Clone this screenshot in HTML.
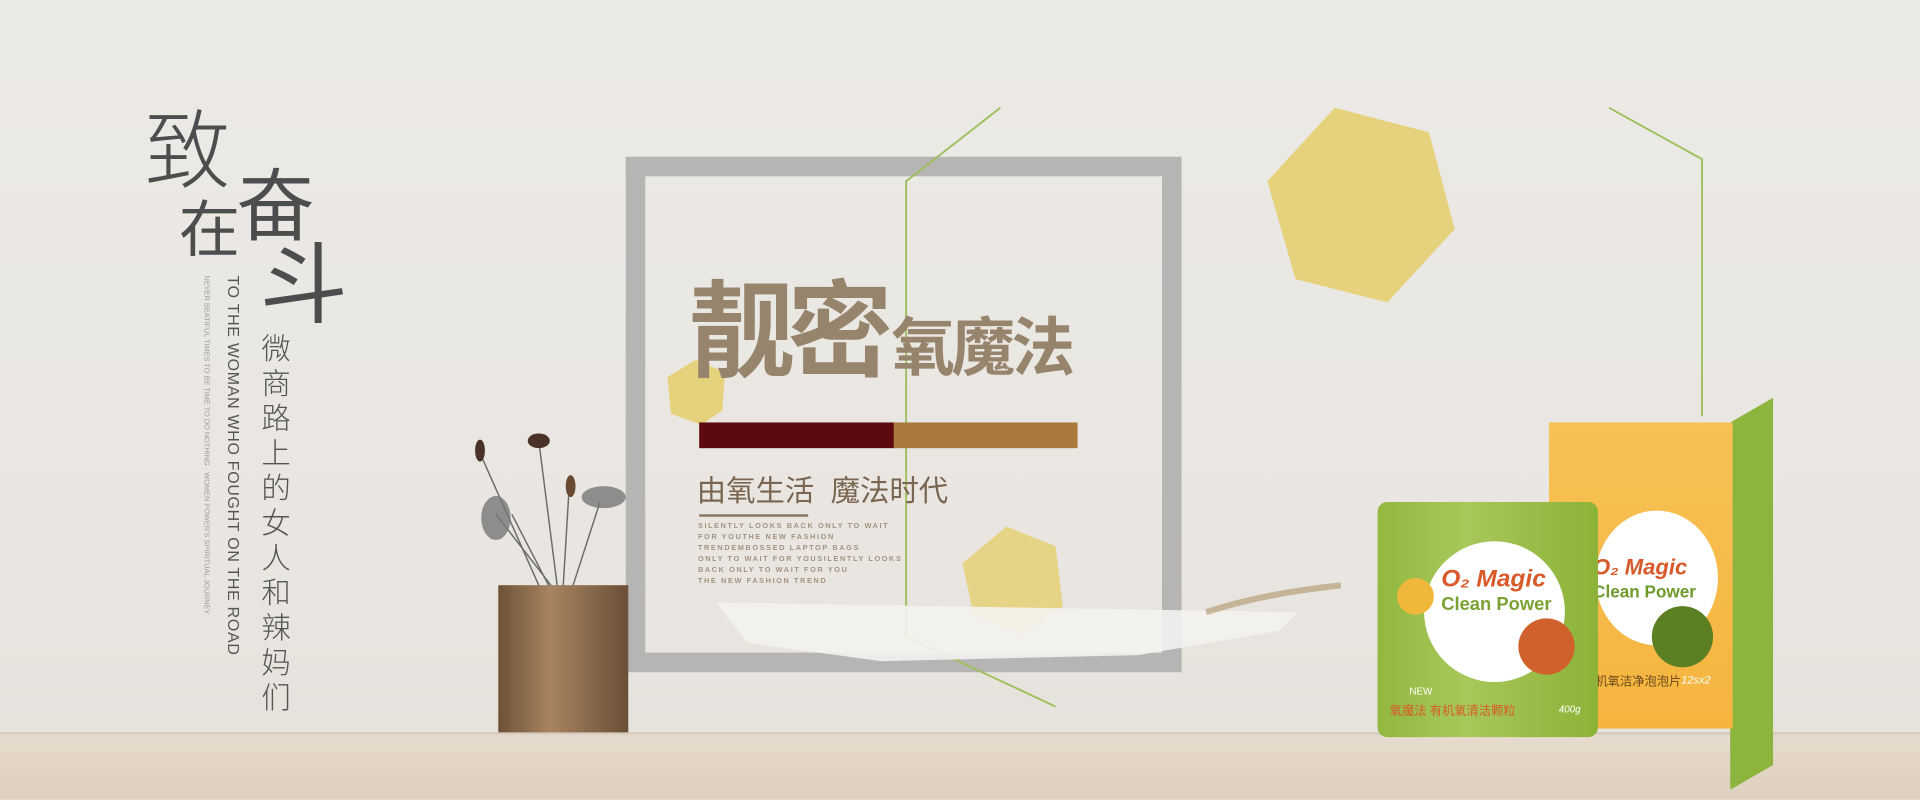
<!DOCTYPE html>
<html><head><meta charset="utf-8">
<style>
html,body{margin:0;padding:0;width:1920px;height:800px;overflow:hidden;background:#ebe8e3}
#stage{position:absolute;left:0;top:0;width:1568px;height:653px;transform:scale(1.22449);transform-origin:0 0;overflow:hidden;
background:linear-gradient(180deg,#eceae6 0%,#e9e6e1 70%,#e6e2dc 91%);font-family:"Liberation Sans","Noto Sans CJK SC",sans-serif}
.a{position:absolute}
.cjk{font-family:"Liberation Sans","Noto Sans CJK SC",sans-serif}
.thin{font-family:"Liberation Sans","WenQuanYi Zen Hei","Noto Sans CJK SC",sans-serif}
</style></head><body>
<div id="stage">
  <div class="a" style="left:0;top:598px;width:1568px;height:55px;background:linear-gradient(180deg,#cfc4b6 0,#e6dccf 3px,#e3d6c5 40%,#ddd0be 100%)"></div>

  <svg class="a" style="left:0;top:0" width="1568" height="653">
    <rect x="519" y="136" width="438" height="405" fill="none" stroke="#b6b5b3" stroke-width="16"/>
    <polyline points="817,88 740,148 740,520 862,577" fill="none" stroke="#9bbf5a" stroke-width="1.5"/>
    <polyline points="1314,88 1390,130 1390,340" fill="none" stroke="#9bbf5a" stroke-width="1.5"/>
    <polygon points="1090,88 1167,108 1188,187 1133,247 1058,228 1035,148" fill="#e6d27c"/>
    <polygon points="568,294 592,304 590,335 573,347 548,338 545,308" fill="#e6d27c"/>
    <polygon points="822,430 862,446 868,495 835,518 795,502 786,460" fill="#e6d27c" opacity="0.9"/>
    <path d="M585,492 L1060,500 L1045,515 L930,535 L720,540 L610,525 Z" fill="#f4f2ef" opacity="0.9"/>
    <path d="M985,500 Q1030,485 1095,478" stroke="#b89f7a" stroke-width="5" fill="none" opacity="0.7"/>
    <rect x="407" y="478" width="106" height="120" fill="#8c6c4c"/>
    <rect x="407" y="478" width="106" height="120" fill="url(#vg)"/>
    <defs><linearGradient id="vg"><stop offset="0" stop-color="#6e5238"/><stop offset=".4" stop-color="#a88460"/><stop offset="1" stop-color="#6a4f36"/></linearGradient></defs>
    <g stroke="#6b6b6b" stroke-width="1.2" fill="none">
      <path d="M440,478 L392,370"/><path d="M448,478 L418,420"/><path d="M455,478 L440,360"/><path d="M460,478 L465,395"/><path d="M468,478 L490,410"/><path d="M450,478 L405,420"/>
    </g>
    <ellipse cx="405" cy="423" rx="12" ry="18" fill="#777" opacity=".8"/>
    <ellipse cx="493" cy="406" rx="18" ry="9" fill="#777" opacity=".8"/>
    <ellipse cx="440" cy="360" rx="9" ry="6" fill="#4a3228"/>
    <ellipse cx="392" cy="368" rx="4" ry="9" fill="#4a3228"/>
    <ellipse cx="466" cy="397" rx="4" ry="9" fill="#6a4a30"/>
  </svg>

  <div class="a thin" style="left:118px;top:68px;font-size:70px;color:#4d4d4d;font-weight:300">致</div>
  <div class="a thin" style="left:146px;top:148px;font-size:50px;color:#4d4d4d">在</div>
  <div class="a thin" style="left:193px;top:118px;font-size:64px;color:#4d4d4d">奋</div>
  <div class="a thin" style="left:212px;top:174px;font-size:72px;color:#4d4d4d">斗</div>

  <div class="a" style="left:178px;top:225px;width:20px;writing-mode:vertical-rl;font-size:13px;color:#555;letter-spacing:0.6px;white-space:nowrap">TO THE WOMAN WHO FOUGHT ON THE ROAD</div>
  <div class="a" style="left:158px;top:225px;width:12px;writing-mode:vertical-rl;font-size:6px;color:#9a9a9a;white-space:nowrap;line-height:5px">NEVER BEATIFUL TIMES TO BE TIME TO DO NOTHING · WOMEN POWER'S SPIRITUAL JOURNEY</div>
  <div class="a cjk" style="left:210px;top:272px;width:30px;writing-mode:vertical-rl;font-size:24px;color:#555;letter-spacing:4.5px;font-weight:300">微商路上的女人和辣妈们</div>

  <div class="a cjk" style="left:563px;top:222px;font-size:86px;font-weight:bold;color:#97846c;letter-spacing:-6px;line-height:100px">靓密</div>
  <div class="a cjk" style="left:728px;top:254px;font-size:52px;font-weight:bold;color:#97846c;letter-spacing:-3px;line-height:62px">氧魔法</div>
  <div class="a" style="left:571px;top:345px;width:159px;height:21px;background:#5c0a10"></div>
  <div class="a" style="left:730px;top:345px;width:150px;height:21px;background:#a8783c"></div>
  <div class="a cjk" style="left:569px;top:386px;font-size:24px;color:#7a6650;line-height:32px;white-space:nowrap">由氧生活&nbsp;&nbsp;魔法时代</div>
  <div class="a" style="left:571px;top:420px;width:89px;height:2px;background:#8a7660"></div>
  <div class="a" style="left:570px;top:426px;font-size:6px;line-height:9px;color:#a3927e;letter-spacing:1.3px;font-weight:bold;white-space:nowrap">SILENTLY LOOKS BACK ONLY TO WAIT<br>FOR YOUTHE NEW FASHION<br>TRENDEMBOSSED LAPTOP BAGS<br>ONLY TO WAIT FOR YOUSILENTLY LOOKS<br>BACK ONLY TO WAIT FOR YOU<br>THE NEW FASHION TREND</div>

  <!-- box -->
  <div class="a" style="left:1413px;top:322px;width:35px;height:300px;background:#8db53e;transform:skewY(-30deg);transform-origin:0 0;top:345px"></div>
  <div class="a" style="left:1265px;top:345px;width:150px;height:250px;background:linear-gradient(180deg,#f7c156,#f6b43e)">
    <div class="a" style="left:38px;top:72px;width:100px;height:110px;border-radius:50%;background:#fff"></div>
    <div class="a" style="left:36px;top:108px;font-size:18px;font-weight:bold;font-style:italic;color:#d85a2a">O₂ Magic</div>
    <div class="a" style="left:36px;top:130px;font-size:14px;font-weight:bold;color:#6e9a2c">Clean Power</div>
    <div class="a" style="left:84px;top:150px;width:50px;height:50px;border-radius:50%;background:#5b7f22"></div>
    <div class="a cjk" style="left:38px;top:203px;font-size:10px;color:#6a4a1a">机氧洁净泡泡片</div>
    <div class="a" style="left:108px;top:205px;font-size:9px;color:#fff;font-style:italic">12sx2</div>
  </div>
  <!-- can -->
  <div class="a" style="left:1125px;top:410px;width:180px;height:192px;border-radius:8px;background:linear-gradient(90deg,#92b83f,#a7c85a 40%,#8cb237)">
    <div class="a" style="left:38px;top:32px;width:115px;height:115px;border-radius:50%;background:#fff"></div>
    <div class="a" style="left:16px;top:62px;width:30px;height:30px;border-radius:50%;background:#f0b73a"></div>
    <div class="a" style="left:52px;top:52px;font-size:20px;font-weight:bold;font-style:italic;color:#d85a2a">O₂ Magic</div>
    <div class="a" style="left:52px;top:75px;font-size:15px;font-weight:bold;color:#7aa232">Clean Power</div>
    <div class="a" style="left:115px;top:95px;width:46px;height:46px;border-radius:50%;background:#d1612c"></div>
    <div class="a" style="left:26px;top:150px;font-size:8px;color:#fff">NEW</div>
    <div class="a cjk" style="left:10px;top:162px;font-size:10px;color:#d85a2a;white-space:nowrap">氧魔法 有机氧清洁颗粒</div>
    <div class="a" style="left:148px;top:165px;font-size:8px;color:#fff;font-style:italic">400g</div>
  </div>
</div>
</body></html>
